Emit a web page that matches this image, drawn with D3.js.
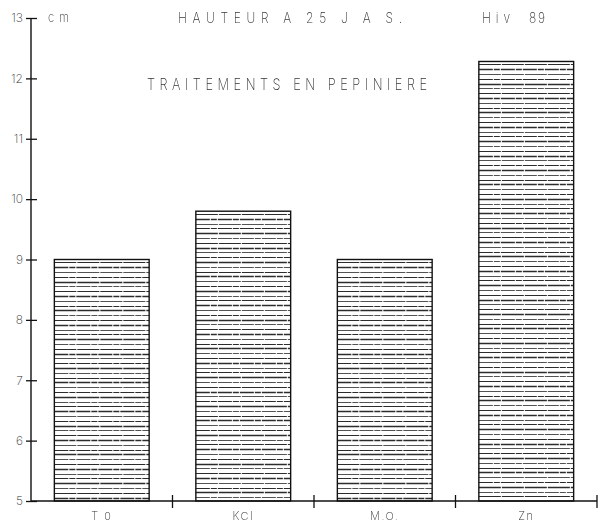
<!DOCTYPE html>
<html>
<head>
<meta charset="utf-8">
<script src="https://cdn.jsdelivr.net/npm/d3@7/dist/d3.min.js"></script>
<style>
  html, body { margin: 0; padding: 0; background: #fff; }
  svg { display: block; }
  text { font-family: "Inter", "Roboto", "DejaVu Sans", sans-serif; font-weight: 200; fill: #333; }
  .label { opacity: 0.99; }
</style>
</head>
<body>
<svg id="chart" width="599" height="522"></svg>
<script>
// Plant height 25 days after sowing, by nursery treatment
const categories = ["T 0", "KCl", "M.O.", "Zn"];
const heights = [9.0, 9.8, 9.0, 12.28];
const yTicks = [5, 6, 7, 8, 9, 10, 11, 12, 13];
const unitLabel = "cm";
const title = "HAUTEUR A 25 J A S.";
const season = "Hiv";
const year = "89";
const subtitle = "TRAITEMENTS EN PEPINIERE";

const svg = d3.select("#chart");
const plotLeft = 31, plotRight = 597, plotTop = 18, plotBottom = 501;

const y = d3.scaleLinear().domain([5, 13]).range([plotBottom, plotTop]);
const x = d3.scaleBand().domain(categories).range([plotLeft, plotRight])
  .paddingInner(0.33).paddingOuter(0.165);

// Narrow plotter-style lettering: horizontally squeezed glyphs, spread to a set width
const labels = svg.append("g").attr("class", "label");
function narrowText(str, tx, ty, size, width, squeeze = 0.8) {
  const t = labels.append("text")
    .attr("transform", `translate(${tx},${ty}) scale(${squeeze},1)`)
    .attr("font-size", size)
    .text(str);
  if (width) t.attr("textLength", width / squeeze).attr("lengthAdjust", "spacing");
  return t;
}

// Bars: outline plus tight horizontal hatching
const bars = svg.append("g").selectAll("g.bar")
  .data(categories.map((c, i) => ({ c, v: heights[i] })))
  .join("g").attr("class", "bar");

const hatchStep = 4.8;
bars.each(function (d) {
  const g = d3.select(this);
  const x0 = x(d.c), w = x.bandwidth();
  const yTop = y(d.v), yBase = y(5);
  const rows = d3.range(yTop + hatchStep * 0.6, yBase, hatchStep);
  g.selectAll("line.hatch").data(rows).join("line")
    .attr("class", "hatch")
    .attr("x1", x0).attr("x2", x0 + w)
    .attr("y1", r => Math.round(r) + 0.5).attr("y2", r => Math.round(r) + 0.5)
    .attr("stroke", "#1a1a1a")
    .attr("stroke-width", (r, i) => (i % 3 === 1 ? 1.35 : 1.1))
    .attr("stroke-opacity", (r, i) => (i % 3 === 2 ? 0.75 : 0.92))
    .attr("stroke-dasharray", (r, i) => (i % 2 ? "14 1 6 1" : "22 1"));
  g.append("rect")
    .attr("x", x0).attr("y", yTop)
    .attr("width", w).attr("height", yBase - yTop)
    .attr("fill", "none").attr("stroke", "#111").attr("stroke-width", 1.4);
});

// Y axis: vertical line with ticks crossing it
const yAxis = svg.append("g").attr("transform", `translate(${plotLeft},0)`)
  .call(d3.axisLeft(y).tickValues(yTicks).tickSize(5).tickPadding(3).tickFormat(d3.format("d")));
yAxis.select(".domain").remove();
yAxis.append("line").attr("x1", 0).attr("x2", 0).attr("y1", y(13)).attr("y2", y(5))
  .attr("stroke", "#111").attr("stroke-width", 1.4);
yAxis.selectAll(".tick line").attr("x1", 6).attr("x2", -5).attr("stroke", "#111").attr("stroke-width", 1.3);
yAxis.selectAll(".tick text").attr("font-size", 12).attr("fill", "#333")
  .style("font-family", "Inter, Roboto, sans-serif").style("font-weight", 200);

// X axis: baseline with category separators
const xAxis = svg.append("g").attr("transform", `translate(0,${plotBottom})`);
xAxis.append("line").attr("x1", plotLeft).attr("x2", plotRight).attr("y1", 0).attr("y2", 0)
  .attr("stroke", "#111").attr("stroke-width", 1.4);
const step = x.step();
const seps = categories.map(c => x(c) + x.bandwidth() + (step - x.bandwidth()) / 2);
xAxis.selectAll("line.sep").data(seps).join("line").attr("class", "sep")
  .attr("x1", d => d).attr("x2", d => d).attr("y1", -6).attr("y2", 7)
  .attr("stroke", "#111").attr("stroke-width", 1.3);
xAxis.selectAll("text.cat").data(categories).join("text").attr("class", "cat")
  .attr("x", d => x(d) + x.bandwidth() / 2).attr("y", 19)
  .attr("text-anchor", "middle").attr("font-size", 11)
  .attr("letter-spacing", 1.5)
  .text(d => d);

// Unit and titles
narrowText(unitLabel, 48, 22, 14, 21);
narrowText(title, 178, 23, 15, 224);
narrowText(season, 482, 23, 15, 28);
narrowText(year, 529, 23, 15, 16);
narrowText(subtitle, 147, 90, 16, 280);
</script>
</body>
</html>
